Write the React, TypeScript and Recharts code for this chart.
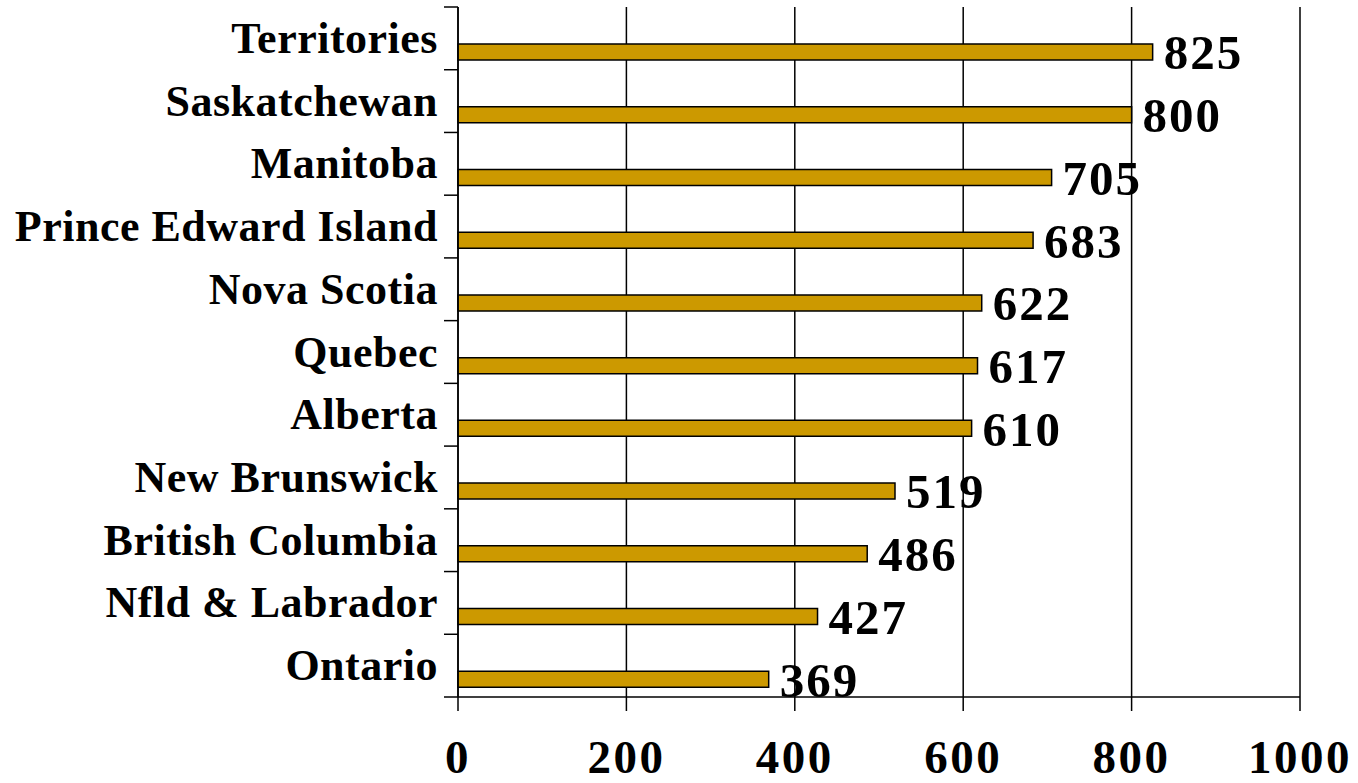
import React from "react";
import { Bar, BarChart, CartesianGrid, LabelList, XAxis, YAxis } from "recharts";

// provinces from top to bottom, as drawn
const provinces = [
  "Territories",
  "Saskatchewan",
  "Manitoba",
  "Prince Edward Island",
  "Nova Scotia",
  "Quebec",
  "Alberta",
  "New Brunswick",
  "British Columbia",
  "Nfld & Labrador",
  "Ontario",
];
const values = [825, 800, 705, 683, 622, 617, 610, 519, 486, 427, 369];
const xTicks = [0, 200, 400, 600, 800, 1000];

const chartData = provinces.map((name, i) => ({ name, value: values[i] }));

const FONT = '"Liberation Serif", "Times New Roman", serif';
const GOLD = "#CC9900";

// category label plus tick marks on the band edges (Excel style)
const ProvinceTick = (props: any) => {
  const { x, y, payload, index, visibleTicksCount, height } = props;
  const half = payload?.offset ?? (height && visibleTicksCount ? height / visibleTicksCount / 2 : 31);
  const isLast = index === visibleTicksCount - 1;
  return (
    <g>
      <line x1={x + 6} x2={x + 20} y1={y - half} y2={y - half} stroke="#000" strokeWidth={1.5} />
      {isLast && <line x1={x + 6} x2={x + 20} y1={y + half} y2={y + half} stroke="#000" strokeWidth={1.5} />}
      <text
        x={x}
        y={y}
        dy="0.33em"
        textAnchor="end"
        fontFamily={FONT}
        fontWeight="bold"
        fontSize={44}
        letterSpacing={0.5}
        fill="#000"
      >
        {payload.value}
      </text>
    </g>
  );
};

export default function App() {
  return (
    <div style={{ position: "absolute", left: 0, top: 0, background: "#fff" }}>
      <BarChart
        width={1358}
        height={783}
        data={chartData}
        layout="vertical"
        margin={{ top: 7, right: 58, left: 0, bottom: 0 }}
        barGap={12}
      >
        <CartesianGrid horizontal={false} stroke="#000" strokeWidth={1.5} />
        <XAxis
          type="number"
          domain={[0, 1000]}
          ticks={xTicks}
          height={86}
          tickSize={14}
          tickMargin={29}
          axisLine={{ stroke: "#000", strokeWidth: 1.5 }}
          tickLine={{ stroke: "#000", strokeWidth: 1.5 }}
          tick={{ fontFamily: FONT, fontWeight: "bold", fontSize: 47, letterSpacing: 2.5, fill: "#000" }}
        />
        <XAxis
          xAxisId="top"
          orientation="top"
          type="number"
          domain={[0, 1000]}
          height={0}
          tick={false}
          tickLine={false}
          axisLine={{ stroke: "#000", strokeWidth: 1.5 }}
        />
        <YAxis
          type="category"
          dataKey="name"
          width={458}
          tickSize={14}
          tickMargin={6}
          tickLine={false}
          interval={0}
          axisLine={{ stroke: "#000", strokeWidth: 1.5 }}
          tick={<ProvinceTick />}
        />
        <YAxis
          yAxisId="right"
          orientation="right"
          type="category"
          dataKey="name"
          width={0}
          tick={false}
          tickLine={false}
          axisLine={{ stroke: "#000", strokeWidth: 1.5 }}
        />
        {/* empty slot so the visible bar sits low in its band, like the original */}
        <Bar dataKey="spacer" barSize={16} fill="none" stroke="none" isAnimationActive={false} />
        <Bar
          dataKey="value"
          barSize={16}
          fill={GOLD}
          stroke="#000"
          strokeWidth={1.5}
          isAnimationActive={false}
        >
          <LabelList
            dataKey="value"
            position="right"
            offset={11}
            fontFamily={FONT}
            fontWeight="bold"
            fontSize={49}
            letterSpacing={2}
            fill="#000"
          />
        </Bar>
      </BarChart>
    </div>
  );
}
